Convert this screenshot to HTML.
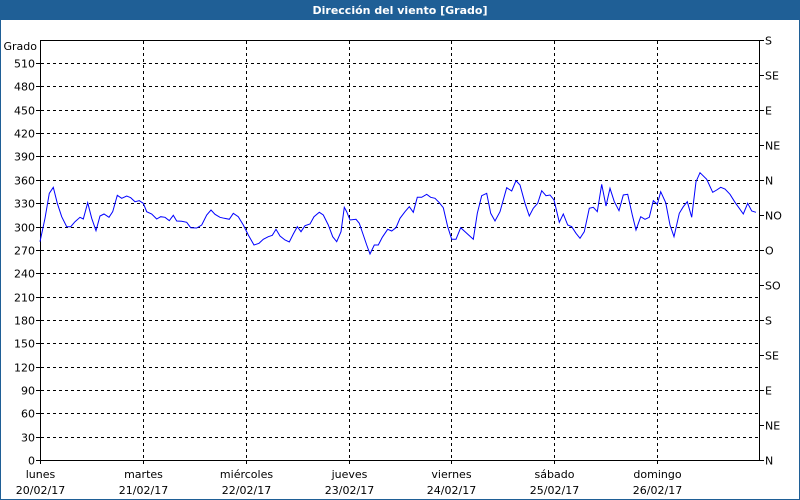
<!DOCTYPE html>
<html><head><meta charset="utf-8"><style>
html,body{margin:0;padding:0;background:#fff}
svg{display:block}
text{font-family:"DejaVu Sans","Liberation Sans",sans-serif;font-size:11px;fill:#000}
</style></head><body>
<svg id="s" width="800" height="500" xmlns="http://www.w3.org/2000/svg">
<rect x="0" y="0" width="800" height="500" fill="#fff"/>
<rect x="0.5" y="0.5" width="799" height="499" fill="none" stroke="#1f5f96"/>
<rect x="0" y="0" width="800" height="20" fill="#1f5f96"/>
<text x="400" y="14" text-anchor="middle" style="fill:#fff;font-weight:bold;font-size:11px">Dirección del viento [Grado]</text>
<g id="grid" stroke="#000" stroke-dasharray="3,3" fill="none"></g>
<rect x="40.5" y="40.5" width="719" height="420" fill="none" stroke="#000"/>
<g id="lab"></g>
<polyline id="ln" fill="none" stroke="#0000ff" stroke-width="1"/>
<text x="37" y="50" text-anchor="end">Grado</text>
</svg>
<script>
var ns="http://www.w3.org/2000/svg",s=document.getElementById('s'),g=document.getElementById('grid'),lb=document.getElementById('lab');
function el(p,t,a,tx){var e=document.createElementNS(ns,t);for(var k in a)e.setAttribute(k,a[k]);if(tx!==undefined)e.textContent=tx;p.appendChild(e);return e;}
var b=460,k=396.9/510;
for(var v=30;v<=510;v+=30){var y=Math.round(b-v*k)+0.5;el(g,'line',{x1:41,x2:760,y1:y,y2:y});}
for(var v=0;v<=510;v+=30){var y=Math.round(b-v*k)+0.5;el(lb,'line',{x1:36,x2:40,y1:y,y2:y,stroke:'#000'});el(lb,'text',{x:35,y:y+4,'text-anchor':'end'},String(v));}
var dirs=['N','NE','E','SE','S','SO','O','NO','N','NE','E','SE','S'];
for(var i=0;i<13;i++){var y=Math.round(b-i*45*k)+0.5;el(lb,'line',{x1:760,x2:764,y1:y,y2:y,stroke:'#000'});el(lb,'text',{x:765,y:y+4},dirs[i]);}
var days=[['lunes','20/02/17'],['martes','21/02/17'],['miércoles','22/02/17'],['jueves','23/02/17'],['viernes','24/02/17'],['sábado','25/02/17'],['domingo','26/02/17']];
for(var i=0;i<7;i++){var x=Math.round(40+i*102.86)+0.5;if(i>0)el(g,'line',{x1:x,x2:x,y1:41,y2:460});el(lb,'line',{x1:x,x2:x,y1:460,y2:464,stroke:'#000'});el(lb,'text',{x:x,y:478,'text-anchor':'middle'},days[i][0]);el(lb,'text',{x:x,y:494,'text-anchor':'middle'},days[i][1]);}
var a=[0,245,15,175,28,100,40,82,52,130,65,170,80,200,92,200,105,185,120,172,130,177,143,128,155,175,168,212,180,168,192,162,207,172,218,155,232,106,245,115,260,108,272,113,285,125,298,122,310,130,320,155,335,162,350,177,362,170,375,172,388,182,400,166,410,183,425,184,440,187,452,203,470,204,485,195,500,165,513,150,525,163,540,172,553,175,568,178,580,160,595,170,610,195,625,225,642,255,657,250,670,238,685,230,697,226,708,208,720,228,735,240,748,246,760,222,772,200,783,215,795,197,810,192,822,170,838,157,850,165,865,195,878,230,890,245,903,215,913,142,920,155,930,180,948,178,958,190,970,225,980,255,990,282,1003,255,1015,255,1027,232,1043,208,1055,213,1068,203,1080,175];
var c=[15,155,28,140,40,157,52,112,65,112,80,103,92,112,105,115,118,128,130,143,143,200,155,238,168,238,182,203,200,220,220,238,232,160,245,107,260,100,272,160,285,183,300,155,320,83,335,93,348,62,360,75,375,130,388,168,400,145,413,130,425,92,438,107,450,105,462,120,478,187,490,162,503,195,515,200,528,220,540,235,553,215,568,145,580,142,592,155,605,73,618,138,630,85,643,125,657,152,670,105,683,103,697,165,708,210,722,170,735,178,748,172,760,122,772,133,782,95,797,128,810,195,822,230,838,160,850,140,862,125,875,172,888,65,900,38,920,58,938,97,950,90,962,82,975,87,990,103,1005,127,1018,145,1030,162,1043,130,1055,153,1068,157];
var pts=[];for(var i=0;i<a.length;i+=2)pts.push((40+a[i]/3).toFixed(1)+','+(160+a[i+1]/3).toFixed(1));
for(var i=0;i<c.length;i+=2)pts.push((400+c[i]/3).toFixed(1)+','+(160+c[i+1]/3).toFixed(1));
document.getElementById('ln').setAttribute('points',pts.join(' '));
</script>
</body></html>
